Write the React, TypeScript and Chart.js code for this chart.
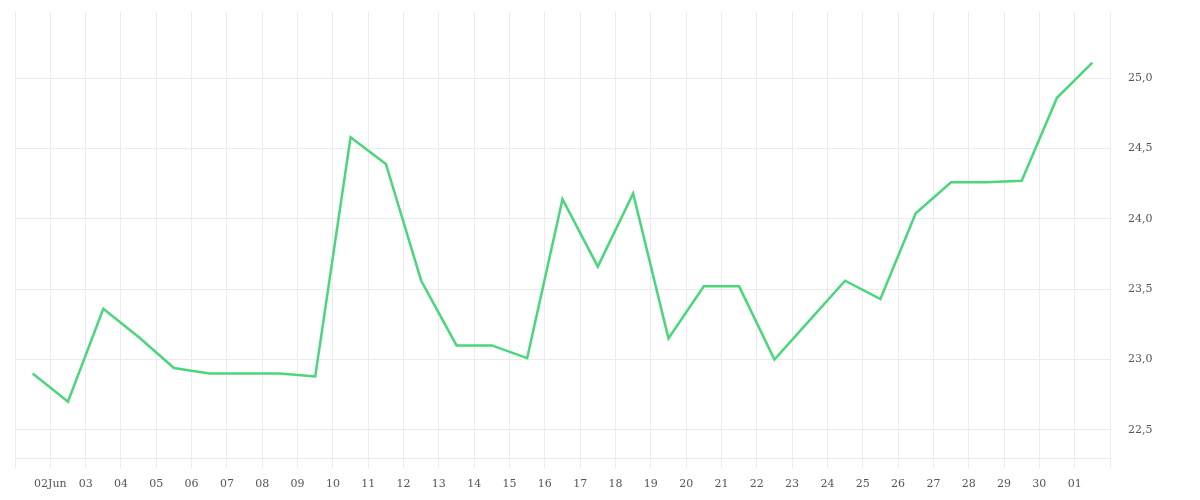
import React, { useEffect, useRef } from "react";
import { Chart, registerables } from "chart.js";

Chart.register(...registerables);

const dayLabels: string[] = [
  "", "02Jun", "03", "04", "05", "06", "07", "08", "09", "10", "11", "12", "13", "14", "15",
  "16", "17", "18", "19", "20", "21", "22", "23", "24", "25", "26", "27", "28", "29", "30", "01", "",
];

const values: number[] = [
  22.90, 22.70, 23.36, 23.16, 22.94, 22.90, 22.90, 22.90, 22.88, 24.58,
  24.39, 23.56, 23.10, 23.10, 23.01, 24.14, 23.66, 24.18, 23.15, 23.52,
  23.52, 23.00, 23.28, 23.56, 23.43, 24.04, 24.26, 24.26, 24.27, 24.86,
  25.11,
];

const yMin = 22.3;
const yMax = 25.47;

export default function App() {
  const ref = useRef<HTMLCanvasElement | null>(null);

  useEffect(() => {
    if (!ref.current) return;
    const gridColor = "#ebebeb";
    const tickColor = "#555555";
    const font = { family: "'DejaVu Serif', serif", size: 11 };
    const chart = new Chart(ref.current, {
      type: "line",
      data: {
        datasets: [
          {
            data: values.map((v, i) => ({ x: i + 0.5, y: v })),
            borderColor: "rgb(74, 214, 122)",
            backgroundColor: "rgb(74, 214, 122)",
            borderWidth: 2.5,
            pointRadius: 0,
            tension: 0,
            fill: false,
          },
        ],
      },
      options: {
        responsive: false,
        animation: false,
        layout: { padding: { left: 15, top: 12, right: 0, bottom: 0 } },
        plugins: { legend: { display: false }, tooltip: { enabled: false } },
        scales: {
          x: {
            type: "linear",
            min: 0,
            max: dayLabels.length - 1,
            grid: { color: gridColor, tickLength: 10, drawTicks: true },
            border: { color: gridColor },
            ticks: {
              stepSize: 1,
              autoSkip: false,
              maxRotation: 0,
              padding: 10,
              color: tickColor,
              font,
              callback: (v: any) => dayLabels[Math.round(Number(v))] ?? "",
            },
            afterFit: (scale: any) => {
              scale.height = 42;
              scale.paddingLeft = 0;
              scale.paddingRight = 0;
            },
          },
          y: {
            position: "right",
            min: yMin,
            max: yMax,
            grid: { color: gridColor, drawTicks: false },
            border: { color: gridColor },
            ticks: {
              stepSize: 0.5,
              includeBounds: false,
              padding: 18,
              color: tickColor,
              font,
              callback: (v: any) => Number(v).toFixed(1).replace(".", ","),
            },
            afterFit: (scale: any) => {
              scale.width = 90;
              scale.paddingTop = 0;
              scale.paddingBottom = 0;
            },
          },
        },
      },
    });
    return () => chart.destroy();
  }, []);

  return (
    <div style={{ position: "absolute", left: 0, top: 0, width: 1200, height: 500 }}>
      <canvas ref={ref} width={1200} height={500} style={{ display: "block" }} />
    </div>
  );
}
